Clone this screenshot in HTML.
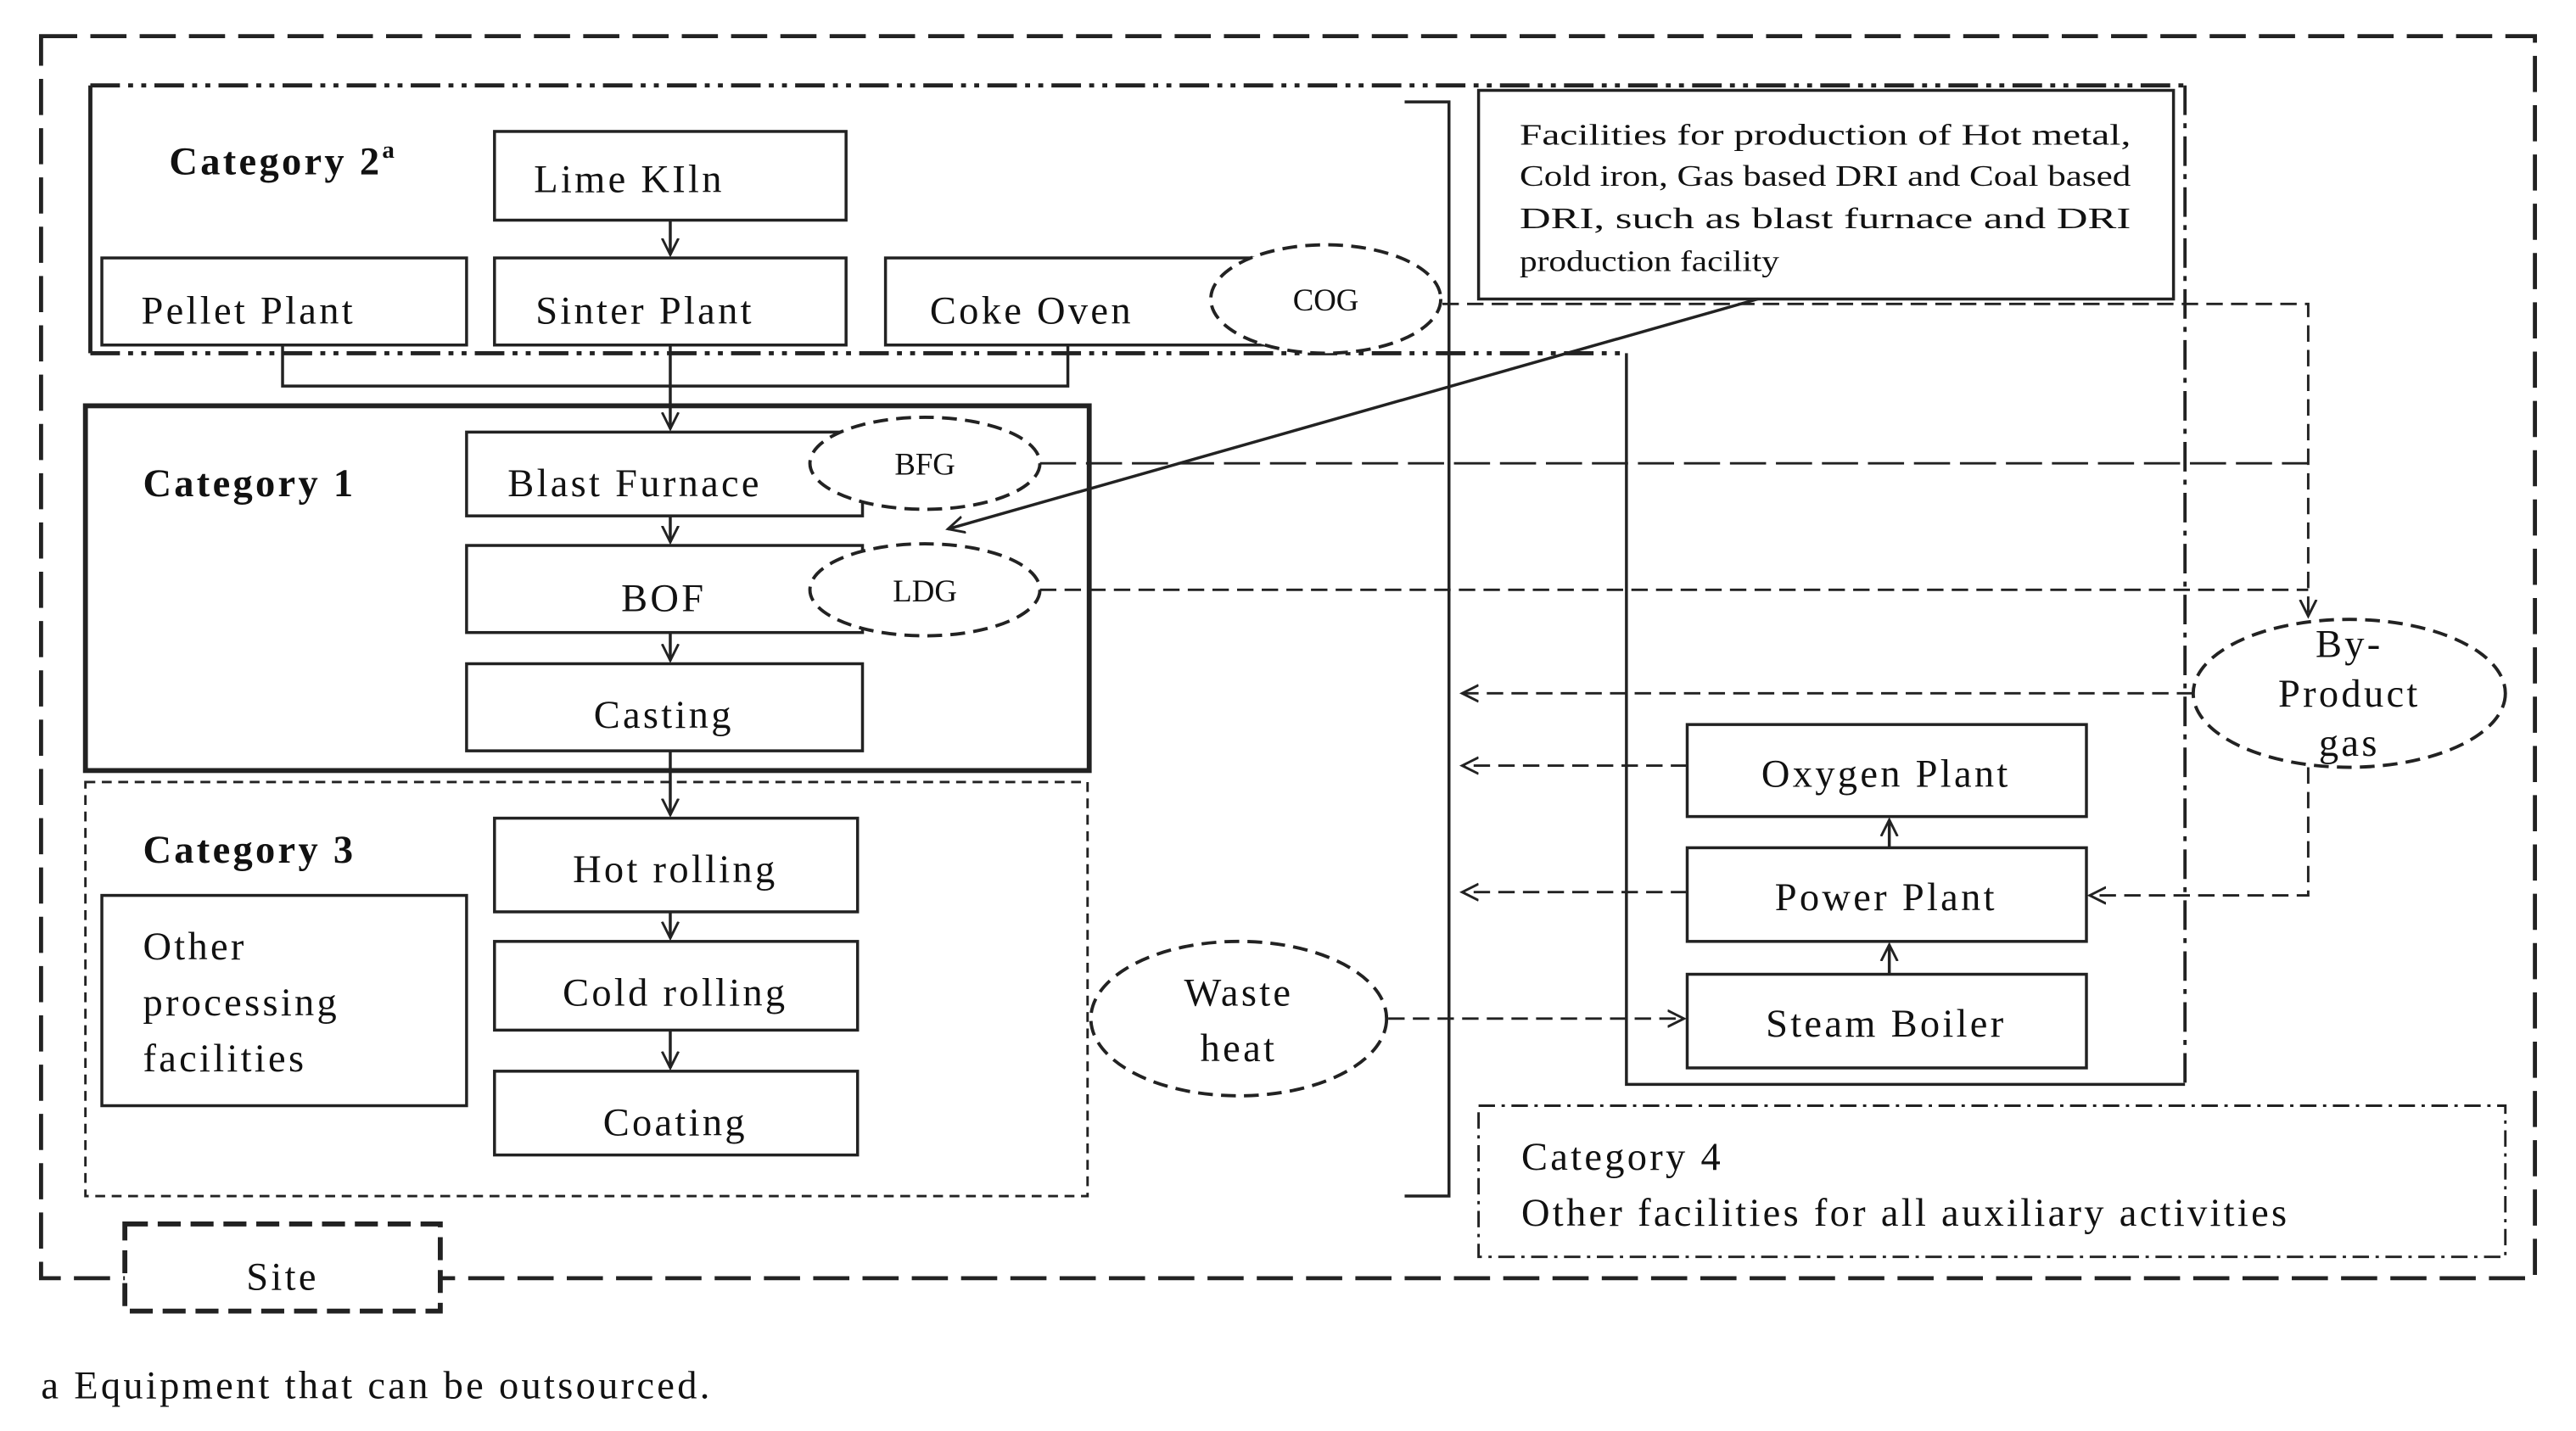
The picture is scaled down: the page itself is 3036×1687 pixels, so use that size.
<!DOCTYPE html>
<html><head><meta charset="utf-8"><style>
html,body{margin:0;padding:0;background:#fff;}
svg{display:block;}
text{font-family:"Liberation Serif",serif;fill:#111;}
.w{letter-spacing:1.7px;}
</style></head><body>
<svg width="3036" height="1687" viewBox="0 0 1568 871" preserveAspectRatio="none" xmlns="http://www.w3.org/2000/svg">
<defs>
<marker id="ah" markerWidth="12" markerHeight="12" refX="10" refY="6" orient="auto" markerUnits="userSpaceOnUse">
<path d="M0,1 L10,6 L0,11" fill="none" stroke="#222" stroke-width="1.5"/>
</marker>
</defs>
<g fill="none" stroke="#222">
<rect x="25" y="22" width="1518" height="756" stroke-width="2.5" stroke-dasharray="22,8"/>
<rect x="76" y="745" width="192" height="53" fill="#fff" stroke-width="3" stroke-dasharray="14,6"/>
<path d="M55,52 L1330,52" stroke-width="2.5" stroke-dasharray="18,5,3,5,3,5"/>
<path d="M55,52 L55,215" stroke-width="2.5"/>
<path d="M55,215 L990,215" stroke-width="2.5" stroke-dasharray="18,5,3,5,3,5"/>
<path d="M990,215 L990,660 L1330,660" stroke-width="1.8"/>
<path d="M1330,52 L1330,660" stroke-width="2" stroke-dasharray="18,5,3,5"/>
<path d="M855,62 L882,62 L882,728 L855,728" stroke-width="1.8"/>
<rect x="900" y="55" width="423" height="127" stroke-width="1.8"/>
<g stroke-width="1.8" fill="#fff">
<rect x="301" y="80" width="214" height="54"/>
<rect x="62" y="157" width="222" height="53"/>
<rect x="301" y="157" width="214" height="53"/>
<rect x="539" y="157" width="231" height="53"/>
<rect x="284" y="263" width="241" height="51"/>
<rect x="284" y="332" width="241" height="53"/>
<rect x="284" y="404" width="241" height="53"/>
<rect x="301" y="498" width="221" height="57"/>
<rect x="301" y="573" width="221" height="54"/>
<rect x="301" y="652" width="221" height="51"/>
<rect x="62" y="545" width="222" height="128"/>
<rect x="1027" y="441" width="243" height="56"/>
<rect x="1027" y="516" width="243" height="57"/>
<rect x="1027" y="593" width="243" height="57"/>
</g>
<rect x="52" y="247" width="611" height="222" stroke-width="3"/>
<rect x="52" y="476" width="610" height="252" stroke-width="1.5" stroke-dasharray="6,4"/>
<rect x="900" y="673" width="625" height="92" stroke-width="1.5" stroke-dasharray="10,4,2,4"/>
<g stroke-width="2" stroke-dasharray="9,5" fill="#fff">
<ellipse cx="807" cy="182" rx="70" ry="33"/>
<ellipse cx="563" cy="282" rx="70" ry="28"/>
<ellipse cx="563" cy="359" rx="70" ry="28"/>
<ellipse cx="754" cy="620" rx="90" ry="47"/>
<ellipse cx="1430" cy="422" rx="95" ry="45"/>
</g>
<g stroke-width="1.8">
<path d="M408,134 L408,155" marker-end="url(#ah)"/>
<path d="M172,210 L172,235 L650,235 L650,210"/>
<path d="M408,210 L408,261" marker-end="url(#ah)"/>
<path d="M408,314 L408,330" marker-end="url(#ah)"/>
<path d="M408,385 L408,402" marker-end="url(#ah)"/>
<path d="M408,457 L408,496" marker-end="url(#ah)"/>
<path d="M408,555 L408,571" marker-end="url(#ah)"/>
<path d="M408,627 L408,650" marker-end="url(#ah)"/>
<path d="M1150,516 L1150,499" marker-end="url(#ah)"/>
<path d="M1150,593 L1150,575" marker-end="url(#ah)"/>
<path d="M1070,182 L577,322" marker-end="url(#ah)"/>
</g>
<g stroke-width="1.5">
<path d="M878,185 L1405,185 L1405,375" stroke-dasharray="10,5" marker-end="url(#ah)"/>
<path d="M633,282 L1405,282" stroke-dasharray="22,6"/>
<path d="M633,359 L1405,359" stroke-dasharray="10,5"/>
<path d="M1405,467 L1405,545 L1272,545" stroke-dasharray="10,5" marker-end="url(#ah)"/>
<path d="M1335,422 L890,422" stroke-dasharray="10,5" marker-end="url(#ah)"/>
<path d="M1027,466 L890,466" stroke-dasharray="10,5" marker-end="url(#ah)"/>
<path d="M1027,543 L890,543" stroke-dasharray="10,5" marker-end="url(#ah)"/>
<path d="M845,620 L1025,620" stroke-dasharray="10,5" marker-end="url(#ah)"/>
</g>
</g>
<g font-size="24" class="w">
<text x="103" y="106" font-weight="bold">Category 2<tspan font-size="15" dy="-10">a</tspan></text>
<text x="325" y="117">Lime KIln</text>
<text x="86" y="197">Pellet Plant</text>
<text x="326" y="197">Sinter Plant</text>
<text x="566" y="197">Coke Oven</text>
<text x="87" y="302" font-weight="bold">Category 1</text>
<text x="309" y="302">Blast Furnace</text>
<text x="404" y="372" text-anchor="middle">BOF</text>
<text x="404" y="443" text-anchor="middle">Casting</text>
<text x="87" y="525" font-weight="bold">Category 3</text>
<text x="411" y="537" text-anchor="middle">Hot rolling</text>
<text x="411" y="612" text-anchor="middle">Cold rolling</text>
<text x="411" y="691" text-anchor="middle">Coating</text>
<text x="87" y="584">Other</text>
<text x="87" y="618">processing</text>
<text x="87" y="652">facilities</text>
<text x="754" y="612" text-anchor="middle">Waste</text>
<text x="754" y="646" text-anchor="middle">heat</text>
<text x="1148" y="479" text-anchor="middle">Oxygen Plant</text>
<text x="1148" y="554" text-anchor="middle">Power Plant</text>
<text x="1148" y="631" text-anchor="middle">Steam Boiler</text>
<text x="1430" y="400" text-anchor="middle">By-</text>
<text x="1430" y="430" text-anchor="middle">Product</text>
<text x="1430" y="460" text-anchor="middle">gas</text>
<text x="926" y="712">Category 4</text>
<text x="926" y="746">Other facilities for all auxiliary activities</text>
<text x="172" y="785" text-anchor="middle">Site</text>
<text x="25" y="851">a Equipment that can be outsourced.</text>
</g>
<g font-size="19">
<text x="807" y="189" text-anchor="middle">COG</text>
<text x="563" y="289" text-anchor="middle">BFG</text>
<text x="563" y="366" text-anchor="middle">LDG</text>
</g>
<g font-size="18">
<text x="925" y="88" textLength="372" lengthAdjust="spacingAndGlyphs">Facilities for production of Hot metal,</text>
<text x="925" y="113" textLength="372" lengthAdjust="spacingAndGlyphs">Cold iron, Gas based DRI and Coal based</text>
<text x="925" y="139" textLength="372" lengthAdjust="spacingAndGlyphs">DRI, such as blast furnace and DRI</text>
<text x="925" y="165" textLength="158" lengthAdjust="spacingAndGlyphs">production facility</text>
</g>
</svg>
</body></html>
